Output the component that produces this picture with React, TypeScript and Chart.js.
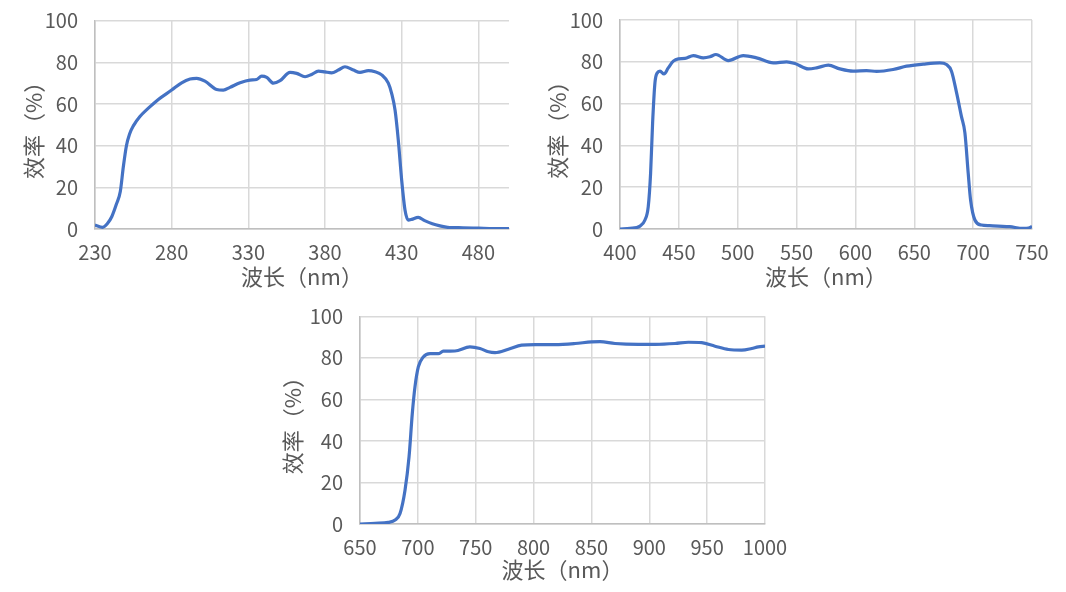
import React, { useEffect, useRef } from "react";
import { Chart, registerables } from "chart.js";

Chart.register(...registerables);

// ---------- data ----------
const wl1 = [230, 235, 238, 241, 244, 246.5, 248.5, 250.5, 252.5, 255, 259.3, 264.8, 271.3, 280, 286.5, 292, 296.3, 301.7, 309.3, 313.7, 318, 324.6, 331, 335.4, 338.7, 342, 346.3, 350.7, 357.2, 361.5, 367, 371.3, 375.7, 380, 384.3, 388.7, 393, 398.5, 402.8, 408.3, 412.6, 417, 421.3, 423.5, 425.7, 427.8, 430, 432.2, 434.3, 436.5, 440.8, 445, 450, 455, 460, 470, 480, 490, 500];
const eff1 = [1.9, 0.8, 2.5, 6, 12, 18, 30, 40, 45.5, 49.5, 54, 58, 62.2, 66.7, 70.2, 72, 72.3, 71, 67, 66.7, 68, 70.2, 71.5, 71.8, 73.4, 72.8, 70, 71.2, 75.2, 74.7, 73.1, 74.2, 75.8, 75.4, 75, 76.3, 77.9, 76.3, 75.2, 76, 75.5, 74, 70, 65, 57, 42.7, 23.5, 9, 4.3, 4.6, 5.6, 4, 2.5, 1.5, 0.8, 0.6, 0.4, 0.2, 0.2];

const wl2 = [400, 408.5, 417, 421.2, 424, 426, 427.7, 429.7, 431.7, 434, 437.4, 441, 445.3, 449.5, 455.2, 462.3, 470.8, 476.4, 481.5, 492, 504.7, 516, 530.2, 541.5, 548.6, 560, 567, 577, 586.8, 598, 609.4, 618, 632, 643.4, 657.6, 671.7, 677.4, 681.6, 686, 690, 693, 695.8, 697.8, 701.5, 707, 714, 731, 742.5, 747, 750];
const eff2 = [0, 0.3, 1.4, 4.3, 10.7, 26.7, 50.7, 70, 74.7, 75.5, 74.2, 77.1, 80.3, 81.4, 81.6, 83, 81.9, 82.4, 83.5, 80.6, 83, 81.9, 79.5, 80, 79.2, 76.6, 77.1, 78.4, 76.6, 75.5, 75.8, 75.4, 76.3, 77.9, 78.9, 79.5, 78.7, 75.5, 65, 54, 46, 26.7, 14, 4.3, 1.9, 1.6, 1.1, 0.3, 0.4, 1.2];

const wl3 = [650, 663, 674.5, 680.3, 684.6, 688.9, 692.4, 695.2, 697.5, 700.4, 704.7, 710.5, 717.7, 722, 732, 745, 753.7, 761, 766.7, 778.2, 789.7, 801.3, 818.5, 835.8, 850.2, 857.4, 870.4, 890.6, 905, 922.3, 933.8, 945.3, 956.8, 968.4, 979.9, 988.5, 994.3, 1000];
const eff3 = [0, 0.3, 0.8, 1.9, 5.1, 16.3, 32.4, 53.2, 66, 75.6, 80.4, 82, 82, 83.2, 83.3, 85.3, 84.5, 82.9, 82.5, 84.1, 86.1, 86.4, 86.4, 86.9, 87.7, 87.8, 86.9, 86.5, 86.5, 86.9, 87.5, 87.3, 85.6, 84, 83.7, 84.5, 85.3, 85.6];

const xTicks1 = [230, 280, 330, 380, 430, 480];
const xTicks2 = [400, 450, 500, 550, 600, 650, 700, 750];
const xTicks3 = [650, 700, 750, 800, 850, 900, 950, 1000];
const yTicks = [0, 20, 40, 60, 80, 100];

const xTitle = "波长（nm）";
const yTitle = "效率（%）";

// ---------- layout specs ----------
type Spec = {
  left: number; top: number; width: number; height: number;
  xMin: number; xMax: number; xTicks: number[];
  wl: number[]; eff: number[];
  yAxisWidth: number; xAxisHeight: number;
  padTop: number; padRight: number;
  yTitlePad: number; xTitlePad: number;
};

const specs: Spec[] = [
  { left: 0, top: 0, width: 530, height: 295, xMin: 230, xMax: 500, xTicks: xTicks1, wl: wl1, eff: eff1,
    yAxisWidth: 95, xAxisHeight: 66, padTop: 20.7, padRight: 21, yTitlePad: 20, xTitlePad: 5 },
  { left: 530, top: 0, width: 536, height: 295, xMin: 400, xMax: 750, xTicks: xTicks2, wl: wl2, eff: eff2,
    yAxisWidth: 90, xAxisHeight: 66, padTop: 20, padRight: 34, yTitlePad: 14, xTitlePad: 5 },
  { left: 270, top: 296, width: 540, height: 296, xMin: 650, xMax: 1000, xTicks: xTicks3, wl: wl3, eff: eff3,
    yAxisWidth: 90, xAxisHeight: 68, padTop: 20.3, padRight: 45, yTitlePad: 9, xTitlePad: 9 },
];

const FONT = "'Noto Sans CJK SC', 'Noto Sans', sans-serif";
const TEXT = "#595959";
const GRID = "#d9d9d9";

function Panel({ s }: { s: Spec }) {
  const ref = useRef<HTMLCanvasElement | null>(null);
  useEffect(() => {
    if (!ref.current) return;
    const chart = new Chart(ref.current, {
      type: "line",
      data: {
        datasets: [
          {
            data: s.wl.map((x, i) => ({ x, y: s.eff[i] })),
            borderColor: "#4472C4",
            borderWidth: 3.2,
            pointRadius: 0,
            fill: false,
            cubicInterpolationMode: "monotone",
          },
        ],
      },
      options: {
        animation: false,
        responsive: false,
        devicePixelRatio: 1,
        layout: { padding: { left: 0, top: s.padTop, right: s.padRight, bottom: 0 } },
        plugins: { legend: { display: false }, tooltip: { enabled: false } },
        scales: {
          x: {
            type: "linear",
            min: s.xMin,
            max: s.xMax,
            afterBuildTicks: (axis: any) => {
              axis.ticks = s.xTicks.map((v) => ({ value: v }));
            },
            afterFit: (axis: any) => {
              axis.height = s.xAxisHeight;
              axis.paddingLeft = 0;
              axis.paddingRight = 0;
            },
            grid: { color: GRID, lineWidth: 1.5, drawTicks: false },
            border: { color: "#bfbfbf", width: 1.5 },
            ticks: {
              padding: 11,
              color: TEXT,
              font: { family: FONT, size: 20, lineHeight: 1.2 },
              maxRotation: 0,
              autoSkip: false,
              callback: (v: any) => String(v),
            },
            title: {
              display: true,
              text: xTitle,
              color: TEXT,
              font: { family: FONT, size: 22, lineHeight: 1.2 },
              padding: { top: 0, bottom: s.xTitlePad },
            },
          },
          y: {
            type: "linear",
            min: 0,
            max: 100,
            afterBuildTicks: (axis: any) => {
              axis.ticks = yTicks.map((v) => ({ value: v }));
            },
            afterFit: (axis: any) => {
              axis.width = s.yAxisWidth;
              axis.paddingTop = 0;
              axis.paddingBottom = 0;
            },
            grid: { color: GRID, lineWidth: 1.5, drawTicks: false },
            border: { color: "#bfbfbf", width: 1.5 },
            ticks: {
              padding: 17,
              color: TEXT,
              font: { family: FONT, size: 20, lineHeight: 1.2 },
              callback: (v: any) => String(v),
            },
            title: {
              display: true,
              text: yTitle,
              color: TEXT,
              font: { family: FONT, size: 22, lineHeight: 1.2 },
              padding: { top: s.yTitlePad, bottom: 0 },
            },
          },
        },
      },
    } as any);
    return () => chart.destroy();
  }, [s]);
  return (
    <div style={{ position: "absolute", left: s.left, top: s.top, width: s.width, height: s.height }}>
      <canvas ref={ref} width={s.width} height={s.height} style={{ width: s.width, height: s.height, display: "block" }} />
    </div>
  );
}

export default function App() {
  return (
    <div style={{ position: "absolute", left: 0, top: 0, width: 1066, height: 592, background: "#ffffff" }}>
      {specs.map((s, i) => (
        <Panel key={i} s={s} />
      ))}
    </div>
  );
}
